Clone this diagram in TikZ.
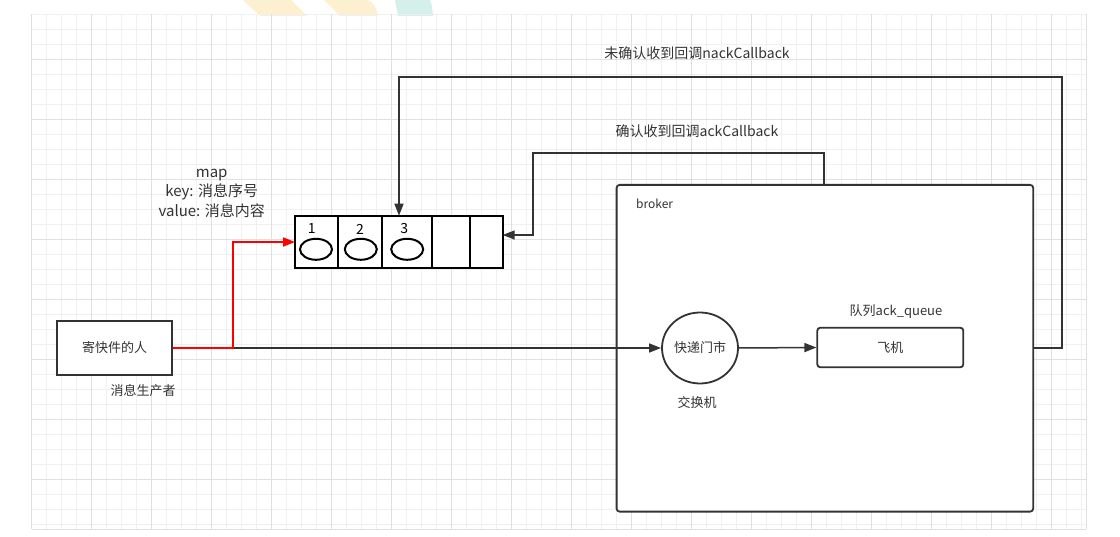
\documentclass[tikz,border=0pt]{standalone}
\usepackage{fontspec}
\setmainfont{Noto Sans CJK SC}
\usetikzlibrary{arrows.meta, positioning, calc, shapes.geometric}
\definecolor{LineGray}{RGB}{51, 51, 51}
\definecolor{GridMinor}{RGB}{240, 240, 240}
\definecolor{GridMajor}{RGB}{224, 224, 224}
\definecolor{MarkYellow}{RGB}{253, 240, 208}
\definecolor{MarkTeal}{RGB}{213, 239, 234}
\definecolor{SendRed}{RGB}{255, 0, 0}

\begin{document}
\begin{tikzpicture}[x=1pt, y=-1pt,
    font=\fontsize{13}{15}\selectfont, text=LineGray,
    flow/.style={draw=LineGray, line width=1.5pt, -{Triangle[length=12pt, width=9pt]}},
    redflow/.style={draw=SendRed, line width=2pt, -{Triangle[length=12pt, width=9pt]}},
    box/.style={draw=LineGray, line width=1.8pt, fill=white, inner sep=0pt},
    cell/.style={draw=black, line width=1.8pt, fill=white, minimum height=52.6pt,
                 outer sep=0pt, inner sep=0pt, anchor=west},
    slot/.style={draw=black, line width=2pt, ellipse, minimum width=32pt,
                 minimum height=21pt, inner sep=0pt},
    tag/.style={inner sep=0pt}]

  % page and grid
  \fill[white] (0,0) rectangle (1120,537);
  \fill[MarkYellow] (243,0) -- (291,0) -- (307,16) -- (260,16) -- cycle;
  \fill[MarkYellow] (324,0) -- (368,0) .. controls (375,5) .. (378,16) -- (340,16) -- cycle;
  \fill[MarkTeal] (395,0) -- (430,0) .. controls (432,6) .. (433,16) -- (398,16) -- cycle;
  \foreach \gx in {31.7,46.7,...,1081.7}
    \draw[GridMinor, line width=0.8pt] (\gx,14.3) -- (\gx,529);
  \foreach \gy in {14.3,29.3,...,524.3}
    \draw[GridMinor, line width=0.8pt] (31.7,\gy) -- (1086,\gy);
  \foreach \gx in {31.7,91.7,...,1081.7}
    \draw[GridMajor, line width=0.8pt] (\gx,14.3) -- (\gx,529);
  \foreach \gy in {59.3,119.3,...,479.3}
    \draw[GridMajor, line width=0.8pt] (31.7,\gy) -- (1086,\gy);
  \draw[GridMajor, line width=0.8pt] (31.7,529) -- (1086,529) (1086,14.3) -- (1086,529);

  % producer
  \node[box, minimum width=115pt, minimum height=54pt] (sender) at (114.5,348) {寄快件的人};
  \node[tag] (senderlabel) at (143,391) {消息生产者};

  % map of unconfirmed messages
  \node[cell, minimum width=42.7pt] (c1) at (295,242) {};
  \node[cell, minimum width=44pt, right=0pt of c1] (c2) {};
  \node[cell, minimum width=50.6pt, right=0pt of c2] (c3) {};
  \node[cell, minimum width=37.7pt, right=0pt of c3] (c4) {};
  \node[cell, minimum width=32.7pt, right=0pt of c4] (c5) {};
  \node[tag, font=\fontsize{14}{16}\selectfont, text=black] (n1) at (311.7,229) {1};
  \node[tag, font=\fontsize{14}{16}\selectfont, text=black] (n2) at (360,229) {2};
  \node[tag, font=\fontsize{14}{16}\selectfont, text=black] (n3) at (404.3,229) {3};
  \node[slot] (s1) at (316,249.3) {};
  \node[slot] (s2) at (360.8,249.3) {};
  \node[slot] (s3) at (407.2,249.3) {};
  \node[tag, align=center, font=\fontsize{15}{19.5}\selectfont] (maplabel) at (211.7,193)
    {map\\key: 消息序号\\value: 消息内容};

  % broker
  \node[box, rounded corners=3pt, minimum width=416.6pt, minimum height=326.7pt,
        anchor=north west] (broker) at (615.7,184) {};
  \node[tag, anchor=west, font=\fontsize{12}{14}\selectfont] (brokerlabel) at (636,204) {broker};
  \node[box, ellipse, minimum width=76pt, minimum height=71pt] (exchange) at (700,348) {快递门市};
  \node[tag] (exchangelabel) at (697,403) {交换机};
  \node[box, rounded corners=3pt, minimum width=146pt, minimum height=39.6pt] (queue) at (890.3,347.5) {飞机};
  \node[tag] (queuelabel) at (896,312) {队列ack\_queue};

  % connectors
  \coordinate (split) at (233,348);
  \coordinate (nackturn) at (1062,77);
  \coordinate (nackin) at (399,215.7);
  \coordinate (ackout) at (824,184);
  \coordinate (ackturn) at (533,153);
  \coordinate (ackin) at (502.7,235);
  \draw[flow] (split) -- (exchange.west);
  \draw[redflow] (sender.east) -- (split) |- (c1.west);
  \draw[flow] (exchange.east) -- (queue.west);
  \draw[flow] (broker.east) -| (nackturn) -| (nackin);
  \draw[flow] (ackout) |- (ackturn) |- (ackin);
  \node[tag, font=\fontsize{14}{16}\selectfont] (nacklabel) at (697,53) {未确认收到回调nackCallback};
  \node[tag, font=\fontsize{14}{16}\selectfont] (acklabel) at (697,131) {确认收到回调ackCallback};
\end{tikzpicture}
\end{document}
